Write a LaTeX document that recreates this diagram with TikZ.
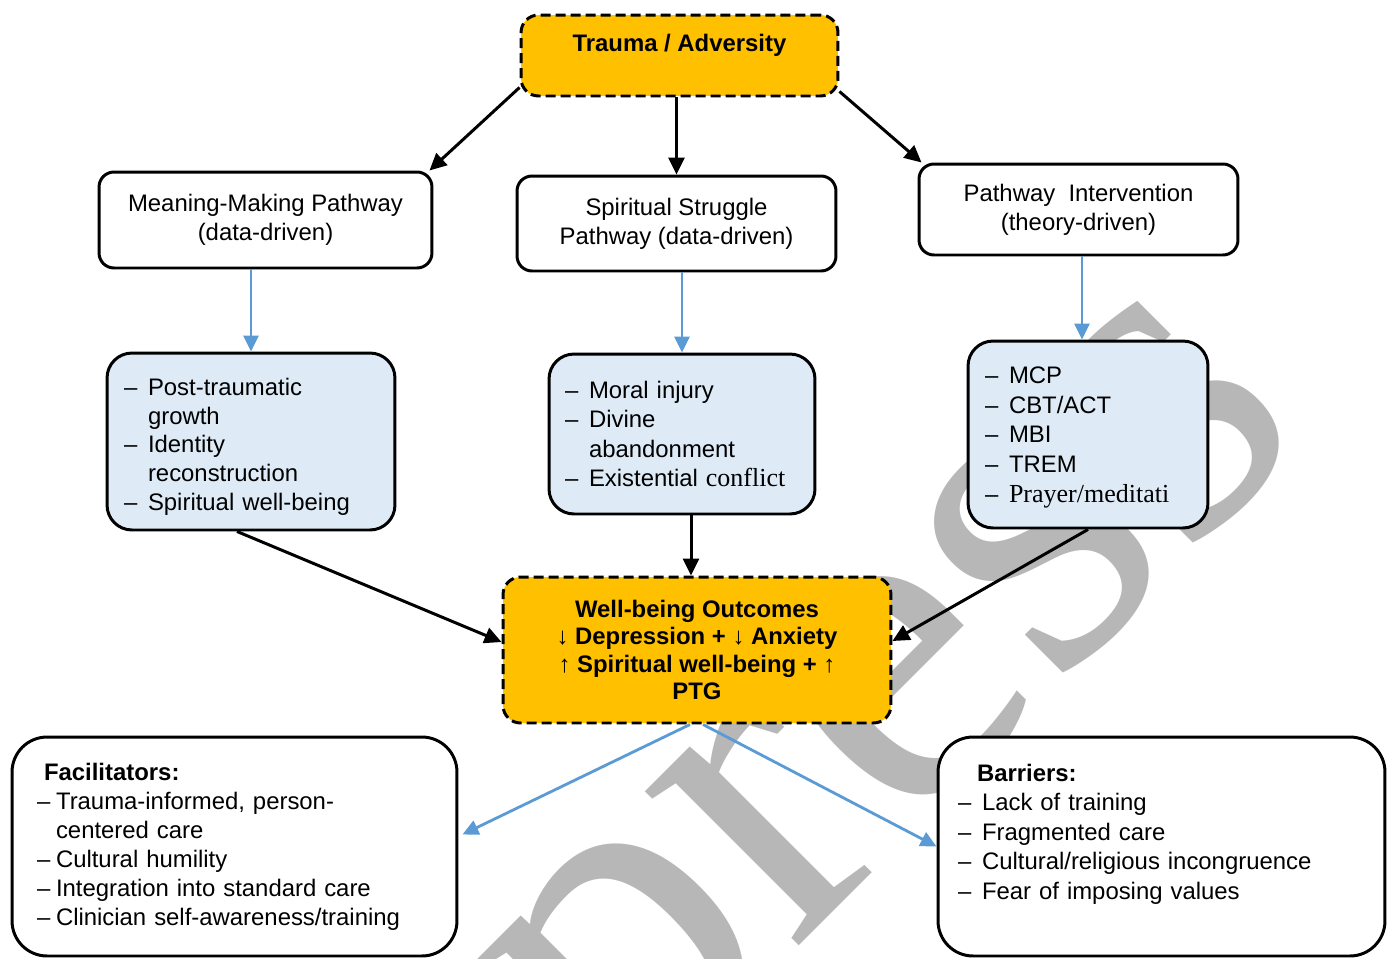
\documentclass[tikz,border=0pt]{standalone}
\usepackage{fontspec}
\setmainfont{Liberation Sans}
\newfontfamily\timesfont{Liberation Serif}
\usetikzlibrary{arrows.meta,calc}

\definecolor{gold}{HTML}{FFC000}
\definecolor{paleblue}{HTML}{DEEBF7}
\definecolor{linkblue}{HTML}{5B9BD5}
\definecolor{wmgray}{HTML}{B7B7B7}

\newcommand{\boxfont}[1][16.3pt]{\fontsize{13.6pt}{#1}\selectfont}
\newcommand{\tms}[1]{{\timesfont\fontsize{14.8pt}{16.3pt}\selectfont #1}}
\newcommand{\dsh}[1][0.48cm]{\makebox[#1][l]{--}}
\newcommand{\ind}[1][0.48cm]{\hspace*{#1}}

\begin{document}
\begin{tikzpicture}[x=0.02cm, y=-0.02cm,
    plainbox/.style = {draw, line width=1.7pt, rounded corners=0.3cm, fill=white,
                       align=center, font=\boxfont, inner sep=0pt},
    goldbox/.style = {plainbox, fill=gold, dash pattern=on 0.2cm off 0.1cm,
                      rounded corners=0.35cm, font=\boxfont\bfseries},
    bluebox/.style = {plainbox, fill=paleblue, rounded corners=0.5cm, align=left},
    notebox/.style = {plainbox, rounded corners=0.7cm, align=left},
    blk/.style = {line width=1.7pt, -{Triangle[length=0.34cm, width=0.32cm]}},
    blu/.style = {linkblue, line width=1.6pt, -{Triangle[length=0.32cm, width=0.3cm]}},
    wmark/.style = {anchor=base west, rotate=45, text=wmgray, inner sep=0pt,
                    font=\timesfont\fontsize{270pt}{270pt}\selectfont}]

    \useasboundingbox (0,0) rectangle (1393,958);

    % watermark, behind everything
    \node[wmark] (wm) at (624.5,1120.5) {press};

    % top
    \node[goldbox, minimum width=6.34cm, minimum height=1.62cm, text depth=0.5cm]
        (tr) at (679.5,55.5) {Trauma / Adversity};

    % pathways
    \node[plainbox, minimum width=6.66cm, minimum height=1.92cm] (mm) at (265.5,220)
        {Meaning-Making Pathway\\(data-driven)};
    \node[plainbox, minimum width=6.38cm, minimum height=1.90cm] (ss) at (676.5,223.5)
        {Spiritual Struggle\\Pathway (data-driven)};
    \node[plainbox, minimum width=6.38cm, minimum height=1.82cm] (pi) at (1078.5,209.5)
        {Pathway\ \ Intervention\\(theory-driven)};

    % contents of each pathway
    \node[bluebox, minimum width=5.76cm, minimum height=3.54cm, inner xsep=0.34cm,
          text width=5.08cm] (pg) at (251,441.5)
        {\rule{0pt}{0.55cm}\dsh Post-traumatic\\ \ind growth\\ \dsh Identity\\
         \ind reconstruction\\ \dsh Spiritual well-being};
    \node[bluebox, minimum width=5.32cm, minimum height=3.2cm, inner xsep=0.32cm,
          text width=4.68cm, font={\boxfont[16.8pt]}] (mi) at (682,434)
        {\dsh Moral injury\\ \dsh Divine\\ \ind abandonment\\
         \dsh Existential \tms{conflict}};
    \node[bluebox, minimum width=4.8cm, minimum height=3.74cm, inner xsep=0.34cm,
          text width=4.12cm, font={\boxfont[16.9pt]}] (mcp) at (1088,434.5)
        {\rule{0pt}{0.45cm}\dsh MCP\\ \dsh CBT/ACT\\ \dsh MBI\\ \dsh TREM\\
         \dsh \tms{Prayer/meditati}};

    % outcomes
    \node[goldbox, minimum width=7.76cm, minimum height=2.92cm,
          font={\boxfont[15.7pt]\bfseries}] (wb) at (697,650)
        {Well-being Outcomes\\↓ Depression + ↓ Anxiety\\↑ Spiritual well-being + ↑\\PTG};

    % facilitators and barriers
    \node[notebox, minimum width=8.9cm, minimum height=4.38cm, inner xsep=0.5cm,
          text width=7.9cm, font={\boxfont[16.5pt]}] (fac) at (234.5,846.5)
        {\hspace*{0.14cm}\textbf{Facilitators:}\\
         \dsh[0.38cm]Trauma-informed, person-\\ \ind[0.38cm]centered care\\
         \dsh[0.38cm]Cultural humility\\ \dsh[0.38cm]Integration into standard care\\
         \dsh[0.38cm]Clinician self-awareness/training};
    \node[notebox, minimum width=8.94cm, minimum height=4.38cm, inner xsep=0.4cm,
          text width=8.14cm, font={\boxfont[16.8pt]}] (bar) at (1161.5,846.5)
        {\hspace*{0.38cm}\textbf{Barriers:}\\ \dsh Lack of training\\
         \dsh Fragmented care\\ \dsh Cultural/religious incongruence\\
         \dsh Fear of imposing values\\ \mbox{}};

    % arrows
    \draw[blk] ($(tr.south west)+(0,-10)$) -- ($(mm.north east)+(-4,0)$);
    \draw[blk] (tr.south -| ss.north) -- (ss.north);
    \draw[blk] ($(tr.south east)+(0,-6)$) -- ($(pi.north west)+(4,0)$);

    \coordinate (po) at ($(mcp.north)+(-6,0)$);
    \draw[blu] (mm.south -| pg.north) -- (pg.north);
    \draw[blu] (ss.south -| mi.north) -- (mi.north);
    \draw[blu] (pi.south -| po) -- (po);

    \coordinate (mo) at ($(mi.south)+(9,0)$);
    \draw[blk] ($(pg.south)+(-14,0)$) -- ($(wb.west)+(0,-8)$);
    \draw[blk] (mo) -- (mo |- wb.north);
    \draw[blk] (mcp.south) -- ($(wb.east)+(0,-9)$);

    \draw[blu] ($(wb.south)+(-7,0)$) -- ($(fac.east)+(4,-12)$);
    \draw[blu] ($(wb.south)+(6,0)$) -- (bar.west);
\end{tikzpicture}
\end{document}
